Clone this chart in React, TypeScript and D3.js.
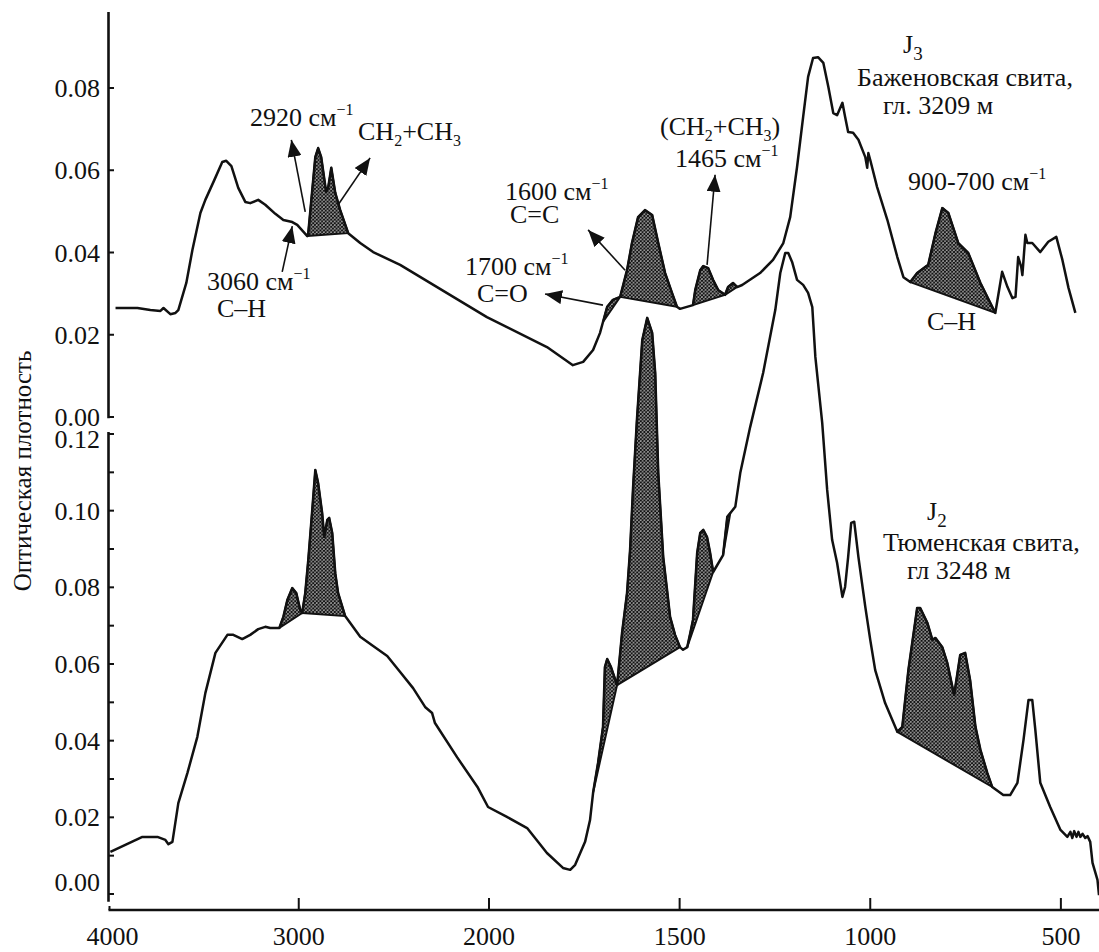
import React from 'react';
import * as d3 from 'd3';

const W = 1099;
const H = 952;
const FONT = 'Liberation Serif, Times New Roman, DejaVu Serif, serif';

// J3, Баженовская свита, гл. 3209 м
const bazhWavenumber = [
  3963, 3848, 3780, 3727, 3711, 3675, 3648, 3633, 3591, 3559, 3517, 3491, 3444, 3402, 3381, 3354,
  3318, 3281, 3255, 3213, 3176, 3123, 3081, 3034, 3008, 2955, 2950, 2913, 2898, 2882, 2856, 2845,
  2829, 2808, 2782, 2740, 2677, 2609, 2467, 2011, 1848, 1780, 1753, 1727, 1709, 1701, 1690, 1675,
  1656, 1638, 1625, 1609, 1591, 1572, 1556, 1538, 1520, 1507, 1499, 1465, 1459, 1446, 1438, 1425,
  1412, 1399, 1381, 1373, 1360, 1349, 1336, 1289, 1255, 1228, 1210, 1192, 1176, 1163, 1150, 1137,
  1123, 1110, 1097, 1087, 1073, 1066, 1058, 1045, 1031, 1013, 1008, 1005, 1000, 982, 955, 929,
  913, 895, 877, 848, 829, 811, 795, 769, 743, 711, 672, 654, 640, 627, 619, 612,
  604, 601, 593, 588, 575, 554, 533, 512, 496, 480, 462,
];
const bazhAbsorbance = [
  0.0265, 0.0265, 0.026, 0.0258, 0.0265, 0.025, 0.0253, 0.026, 0.0326, 0.0406, 0.0496, 0.0528, 0.0576, 0.062, 0.0623, 0.061,
  0.0557, 0.0523, 0.052, 0.0528, 0.0516, 0.0494, 0.0479, 0.0474, 0.0467, 0.044, 0.0447, 0.0632, 0.0654, 0.0632, 0.0547, 0.0559,
  0.0606, 0.0545, 0.0503, 0.0447, 0.0423, 0.0401, 0.037, 0.0243, 0.017, 0.0126, 0.0134, 0.0163, 0.0204, 0.0231, 0.0268, 0.0285,
  0.0292, 0.0357, 0.0423, 0.0486, 0.0503, 0.0491, 0.0423, 0.035, 0.0302, 0.0268, 0.0263, 0.0272, 0.0309, 0.0357, 0.0367, 0.0362,
  0.0333, 0.0309, 0.0297, 0.0316, 0.0326, 0.0316, 0.0321, 0.035, 0.0382, 0.0423, 0.0486, 0.0608, 0.073, 0.0827, 0.0873, 0.0875,
  0.0861, 0.0803, 0.0739, 0.0734, 0.0764, 0.073, 0.0693, 0.0691, 0.0674, 0.0632, 0.0606, 0.0642, 0.0625, 0.0559, 0.0479, 0.0389,
  0.034, 0.0328, 0.035, 0.037, 0.0447, 0.0508, 0.0496, 0.0423, 0.0399, 0.0326, 0.0253, 0.0353, 0.0316, 0.0289, 0.0292, 0.0389,
  0.0365, 0.0345, 0.0443, 0.0423, 0.0423, 0.0401, 0.0426, 0.0438, 0.0382, 0.0314, 0.0253,
];

// J2, Тюменская свита, гл 3248 м
const tyumWavenumber = [
  3990, 3822, 3743, 3701, 3685, 3664, 3633, 3585, 3533, 3491, 3438, 3375, 3344, 3297, 3255, 3213,
  3176, 3150, 3102, 3081, 3060, 3034, 3013, 2992, 2982, 2966, 2950, 2929, 2913, 2898, 2877, 2866,
  2850, 2840, 2824, 2808, 2793, 2756, 2677, 2609, 2535, 2467, 2399, 2336, 2299, 2284, 2168, 2058,
  2005, 1953, 1900, 1848, 1806, 1787, 1774, 1748, 1735, 1727, 1714, 1701, 1696, 1690, 1680, 1664,
  1651, 1638, 1630, 1622, 1612, 1598, 1585, 1572, 1564, 1556, 1543, 1533, 1525, 1512, 1499, 1491,
  1480, 1472, 1465, 1454, 1446, 1438, 1428, 1420, 1412, 1386, 1375, 1367, 1354, 1341, 1315, 1281,
  1249, 1236, 1223, 1215, 1205, 1192, 1176, 1163, 1152, 1144, 1126, 1113, 1100, 1087, 1073, 1066,
  1058, 1050, 1042, 1031, 1013, 1000, 987, 961, 929, 916, 900, 877, 869, 850, 837, 829,
  811, 798, 780, 764, 751, 738, 724, 711, 693, 680, 651, 633, 614, 598, 585, 575,
  567, 554, 528, 501, 483, 475, 470, 465, 459, 454, 449, 443, 436, 430, 423, 417,
  404, 400,
];
const tyumAbsorbance = [
  0.011, 0.0149, 0.0149, 0.0141, 0.013, 0.0136, 0.0237, 0.0316, 0.041, 0.0524, 0.0629, 0.0676, 0.0676, 0.0665, 0.0676, 0.0691,
  0.0697, 0.0694, 0.0694, 0.0723, 0.0767, 0.0798, 0.0785, 0.0741, 0.0733, 0.0785, 0.0871, 0.1002, 0.1106, 0.1072, 0.0994, 0.0931,
  0.0976, 0.0981, 0.0942, 0.0837, 0.0785, 0.0725, 0.0671, 0.0647, 0.0621, 0.0579, 0.0537, 0.0488, 0.0472, 0.0446, 0.0357, 0.0277,
  0.0227, 0.0201, 0.0172, 0.0107, 0.0068, 0.0063, 0.0076, 0.0136, 0.0193, 0.0264, 0.0342, 0.0436, 0.0592, 0.0613, 0.0592, 0.0545,
  0.0681, 0.0785, 0.0897, 0.1062, 0.1237, 0.1445, 0.1503, 0.1464, 0.1359, 0.1098, 0.0879, 0.0793, 0.0723, 0.0676, 0.0644, 0.0637,
  0.0644, 0.0681, 0.0715, 0.089, 0.0942, 0.095, 0.0931, 0.089, 0.084, 0.0884, 0.0984, 0.0994, 0.101, 0.1098, 0.1218, 0.1359,
  0.1524, 0.162, 0.1672, 0.1672, 0.1649, 0.1602, 0.1589, 0.1568, 0.1531, 0.1401, 0.1229, 0.1054, 0.0924, 0.0864, 0.0775, 0.0801,
  0.0879, 0.0968, 0.0971, 0.0879, 0.0749, 0.0663, 0.0584, 0.0498, 0.0423, 0.0436, 0.0584, 0.0746, 0.0746, 0.0707, 0.0663, 0.0668,
  0.0644, 0.0603, 0.0519, 0.0624, 0.0629, 0.0558, 0.0436, 0.0376, 0.0316, 0.0279, 0.0258, 0.0258, 0.029, 0.0402, 0.0506, 0.0506,
  0.0428, 0.029, 0.0227, 0.0167, 0.0149, 0.0162, 0.0146, 0.0164, 0.0149, 0.0162, 0.0149, 0.0157, 0.0146, 0.0151, 0.0136, 0.0081,
  0.0037, -0.0003,
];

// shaded absorption bands: [from, to] wavenumber, baseline drawn between the ends
const bazhBands = [[2955, 2740], [1701, 1656], [1656, 1507], [1465, 1381], [1381, 1349], [895, 672]];
const tyumBands = [[3102, 2982], [2982, 2756], [1727, 1664], [1664, 1499], [1480, 1412], [1386, 1367], [929, 680]];

const xTicks = [4000, 3000, 2000, 1500, 1000, 500];
const topTicks = [0, 0.02, 0.04, 0.06, 0.08];
const bottomTicks = [0, 0.02, 0.04, 0.06, 0.08, 0.1, 0.12];
const bottomMinorTicks = [0.01, 0.03, 0.05, 0.07, 0.09, 0.11];

// arrows in the upper spectrum: tail -> head, [wavenumber, absorbance]
const arrows = [
  { from: [2966, 0.0499], to: [3039, 0.0674] },
  { from: [2793, 0.0516], to: [2625, 0.063] },
  { from: [3087, 0.0353], to: [3034, 0.0464] },
  { from: [1701, 0.0272], to: [1853, 0.0299] },
  { from: [1643, 0.0357], to: [1740, 0.0455] },
  { from: [1428, 0.037], to: [1407, 0.0589] },
];

type Part = [string, string?];
const labels: { x: number; y: number; parts: Part[] }[] = [
  { x: 250, y: 126, parts: [['2920 см'], ['−1', 'sup']] },
  { x: 358, y: 140, parts: [['CH'], ['2', 'sub'], ['+CH'], ['3', 'sub']] },
  { x: 207, y: 290, parts: [['3060 см'], ['−1', 'sup']] },
  { x: 217, y: 317, parts: [['C–H']] },
  { x: 505, y: 200, parts: [['1600  см'], ['−1', 'sup']] },
  { x: 510, y: 223, parts: [['C=C']] },
  { x: 465, y: 275, parts: [['1700 см'], ['−1', 'sup']] },
  { x: 477, y: 302, parts: [['C=O']] },
  { x: 660, y: 135, parts: [['(CH'], ['2', 'sub'], ['+CH'], ['3', 'sub'], [')']] },
  { x: 675, y: 167, parts: [['1465 см'], ['−1', 'sup']] },
  { x: 903, y: 53, parts: [['J'], ['3', 'jsub']] },
  { x: 857, y: 86, parts: [['Баженовская свита,']] },
  { x: 883, y: 114, parts: [['гл. 3209 м']] },
  { x: 908, y: 190, parts: [['900-700 см'], ['−1', 'sup']] },
  { x: 927, y: 330, parts: [['C–H']] },
  { x: 927, y: 520, parts: [['J'], ['2', 'jsub']] },
  { x: 883, y: 551, parts: [['Тюменская свита,']] },
  { x: 907, y: 579, parts: [['гл 3248 м']] },
];

const x = d3.scaleLinear().domain([4000, 2000, 400]).range([108.5, 489, 1099]);
const yTop = d3.scaleLinear().domain([0, 0.08]).range([417, 88]);
const yBot = d3.scaleLinear().domain([0, 0.12]).range([894, 434]);

const SHIFT: Record<string, [number, number]> = {
  sup: [-11, 16],
  sub: [6, 16],
  jsub: [7, 19],
};

function Label({ x, y, parts }: { x: number; y: number; parts: Part[] }) {
  let cur = 0;
  return (
    <text x={x} y={y} style={{ fontFamily: FONT, fontSize: 26 }}>
      {parts.map(([t, k], i) => {
        const [off, size] = k ? SHIFT[k] : [0, 26];
        const dy = off - cur;
        cur = off;
        return (
          <tspan key={i} dy={dy} style={{ fontSize: size }}>
            {t}
          </tspan>
        );
      })}
    </text>
  );
}

function Spectrum({ wn, abs, bands, y }: { wn: number[]; abs: number[]; bands: number[][]; y: d3.ScaleLinear<number, number> }) {
  const pts: [number, number][] = wn.map((w, i) => [w, abs[i]]);
  const line = d3.line<[number, number]>().x(d => x(d[0])).y(d => y(d[1]));
  const bandPaths = bands.map(([a, b]) => line(pts.filter(p => p[0] <= a && p[0] >= b)) + 'Z');
  return (
    <g>
      {bandPaths.map((d, i) => (
        <path key={'f' + i} d={d} fill="url(#hatch)" stroke="#111" strokeWidth={1.9} strokeLinejoin="round" />
      ))}
      <path d={line(pts) ?? ''} fill="none" stroke="#111" strokeWidth={2.5} strokeLinejoin="round" />
    </g>
  );
}

export default function App() {
  const axisW = 2.6;
  const txt = { fontFamily: FONT, fontSize: 26 };
  return (
    <svg width={W} height={H} style={{ position: 'absolute', left: 0, top: 0, background: '#fff', fontFamily: FONT }} fill="#111">
      <defs>
        <pattern id="hatch" width={3.6} height={3.6} patternUnits="userSpaceOnUse">
          <rect width={3.6} height={3.6} fill="#fff" />
          <path d="M-1,1l2,-2M0,3.6l3.6,-3.6M2.6,4.6l2,-2M-1,2.6l2,2M0,0l3.6,3.6M2.6,-1l2,2" stroke="#111" strokeWidth={1.3} />
        </pattern>
        <marker id="ah" viewBox="0 0 17 14" refX={17} refY={7} markerWidth={17} markerHeight={14} markerUnits="userSpaceOnUse" orient="auto">
          <path d="M0,0L17,7L0,14Z" fill="#111" />
        </marker>
      </defs>

      {/* y axes */}
      <g stroke="#111" strokeWidth={axisW}>
        <line x1={108.5} x2={108.5} y1={yTop(0.0985)} y2={yTop(-0.0003)} />
        <line x1={108.5} x2={108.5} y1={yBot(0.1205)} y2={yBot(-0.002)} />
        {topTicks.map(t => (
          <line key={'tt' + t} x1={108.5} x2={114} y1={yTop(t)} y2={yTop(t)} strokeWidth={2} />
        ))}
        {bottomTicks.concat(bottomMinorTicks).map(t => (
          <line key={'bt' + t} x1={108.5} x2={114} y1={yBot(t)} y2={yBot(t)} strokeWidth={2} />
        ))}
      </g>
      <g style={txt} textAnchor="end">
        {topTicks.map(t => (
          <text key={'tl' + t} x={100} y={yTop(t)} dy="0.35em">
            {d3.format('.2f')(t)}
          </text>
        ))}
        {bottomTicks.map(t => (
          <text key={'bl' + t} x={100} y={yBot(t) + (t === 0 ? -12 : t === 0.12 ? 5 : 0)} dy="0.35em">
            {d3.format('.2f')(t)}
          </text>
        ))}
      </g>
      <text transform="translate(31,471) rotate(-90)" textAnchor="middle" style={{ fontFamily: FONT, fontSize: 25 }}>
        Оптическая плотность
      </text>

      {/* x axis */}
      <g stroke="#111">
        <line x1={108.5} x2={W} y1={910} y2={910} strokeWidth={axisW} />
        <line x1={109.5} x2={109.5} y1={910} y2={906} strokeWidth={2} />
        {xTicks.slice(1).map(t => (
          <line key={'xt' + t} x1={x(t)} x2={x(t)} y1={910} y2={898} strokeWidth={2} />
        ))}
      </g>
      <g style={txt} textAnchor="middle">
        {xTicks.map((t, i) => (
          <text key={'xl' + t} x={x(t) + (i === 0 ? 4 : 0)} y={945}>
            {t}
          </text>
        ))}
      </g>

      <Spectrum wn={tyumWavenumber} abs={tyumAbsorbance} bands={tyumBands} y={yBot} />
      <Spectrum wn={bazhWavenumber} abs={bazhAbsorbance} bands={bazhBands} y={yTop} />

      <g stroke="#111" strokeWidth={1.6}>
        {arrows.map((a, i) => (
          <line key={'ar' + i} x1={x(a.from[0])} y1={yTop(a.from[1])} x2={x(a.to[0])} y2={yTop(a.to[1])} markerEnd="url(#ah)" />
        ))}
      </g>

      {labels.map((l, i) => (
        <Label key={'lb' + i} {...l} />
      ))}
    </svg>
  );
}
